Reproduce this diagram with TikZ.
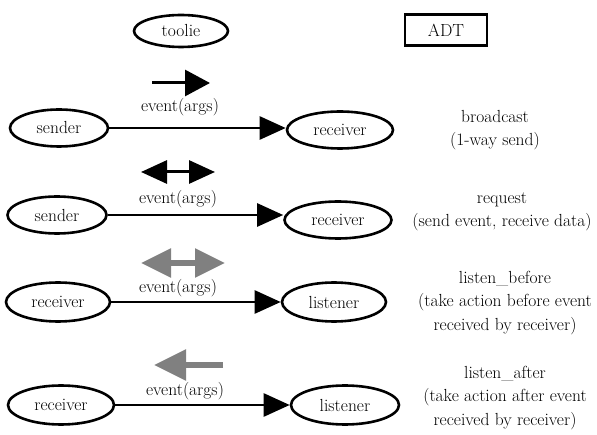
\documentclass[tikz,border=0pt]{standalone}
\usetikzlibrary{shapes.geometric,arrows.meta}
\begin{document}
\begin{tikzpicture}[x=1pt,y=-1pt,
  font=\rmfamily\fontsize{17.5}{23.5}\selectfont,
  every node/.style={inner sep=0pt},
  actor/.style={draw,line width=2.6pt,ellipse,minimum width=100pt,minimum height=37pt},
  adtbox/.style={draw,line width=2.6pt,rectangle,minimum width=82pt,minimum height=31pt},
  txt/.style={align=center},
  edge/.style={line width=2.6pt,-{Triangle[length=26pt,width=23pt]}},
  key/.style={line width=3pt},
  greykey/.style={line width=5.5pt,draw=keygrey}
]
\definecolor{keygrey}{RGB}{128,128,128}
\useasboundingbox (0,0) rectangle (597,435);

% legend
\node[actor,minimum width=94pt,minimum height=32pt] (toolie) at (181,31) {toolie};
\node[adtbox] (adt) at (446,30) {ADT};

% broadcast
\coordinate (b1) at (152,83);
\coordinate (b2) at (210,83);
\draw[key,-{Triangle[length=25pt,width=26pt]}] (b1) -- (b2);
\node (bl) at (180,107) {event(args)};
\node[actor,minimum width=98pt] (bs) at (59,128) {sender};
\node[actor,minimum width=106pt] (br) at (340,130) {receiver};
\draw[edge] (bs.east) -- (bs.east -| br.west);
\node[txt] (bt) at (495,130) {broadcast\\(1-way send)};

% request
\coordinate (r1) at (141,172);
\coordinate (r2) at (215,172);
\draw[key,{Triangle[length=26pt,width=23pt]}-{Triangle[length=26pt,width=23pt]}] (r1) -- (r2);
\node (rl) at (178,199) {event(args)};
\node[actor,minimum width=99pt] (rs) at (57,215) {sender};
\node[actor,minimum width=107pt] (rr) at (338,220) {receiver};
\draw[edge] (rs.east) -- (rs.east -| rr.west);
\node[txt] (rt) at (502,212) {request\\(send event, receive data)};

% listen_before
\coordinate (lb1) at (141,263);
\coordinate (lb2) at (225,263);
\draw[greykey,{Triangle[length=30pt,width=28pt]}-{Triangle[length=30pt,width=28pt]}] (lb1) -- (lb2);
\node (lbl) at (178,288) {event(args)};
\node[actor,minimum width=104pt,minimum height=39pt] (lbr) at (58,302) {receiver};
\node[actor,minimum width=104pt,minimum height=39pt] (lbl2) at (334,302) {listener};
\draw[edge] (lbr.east) -- (lbl2.west);
\node[txt] (lbt) at (505,303) {listen\_before\\(take action before event\\received by receiver)};

% listen_after
\coordinate (la1) at (223,365);
\coordinate (la2) at (154,365);
\draw[greykey,-{Triangle[length=32pt,width=30pt]}] (la1) -- (la2);
\node (lal) at (185,391) {event(args)};
\node[actor,minimum width=106pt,minimum height=39pt] (lar) at (61,405) {receiver};
\node[actor,minimum width=108pt,minimum height=39pt] (lal2) at (345,405) {listener};
\draw[edge] (lar.east) -- (lal2.west);
\node[txt] (lat) at (505,398) {listen\_after\\(take action after event\\received by receiver)};
\end{tikzpicture}
\end{document}
